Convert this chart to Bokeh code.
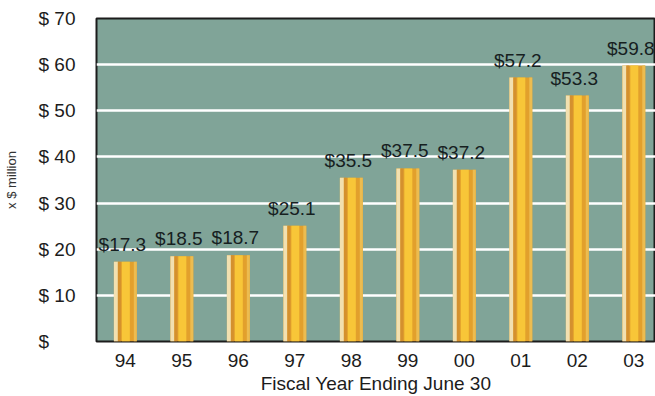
from bokeh.plotting import figure
from bokeh.models import Range1d, FixedTicker, ColumnDataSource
from bokeh.transform import dodge
from bokeh.core.properties import value
from bokeh.embed import file_html
from bokeh.resources import INLINE

years = ["94", "95", "96", "97", "98", "99", "00", "01", "02", "03"]
amounts = [17.3, 18.5, 18.7, 25.1, 35.5, 37.5, 37.2, 57.2, 53.3, 59.8]
value_labels = ["$17.3", "$18.5", "$18.7", "$25.1", "$35.5", "$37.5", "$37.2", "$57.2", "$53.3", "$59.8"]
y_ticks = [0, 10, 20, 30, 40, 50, 60, 70]
y_tick_labels = ["$\u00a0\u00a0\u00a0\u00a0\u00a0", "$ 10", "$ 20", "$ 30", "$ 40", "$ 50", "$ 60", "$ 70"]

xs = list(range(len(years)))
src = ColumnDataSource(dict(x=xs, top=amounts, label=value_labels))

FONT = "Liberation Sans"
unit = 56.8  # px per category
left_pad = 29  # px from frame edge to first bar centre

p = figure(width=655, height=396, output_backend="svg", toolbar_location=None,
           x_range=Range1d(-left_pad / unit, -left_pad / unit + 562 / unit), y_range=Range1d(0, 70),
           min_border_left=93, min_border_right=0, min_border_top=18, min_border_bottom=55)
p.background_fill_color = "#80a498"
p.border_fill_color = "white"
p.outline_line_color = "#1c1c1c"
p.outline_line_width = 2

# bars, layered for the cylinder look
p.vbar(x="x", top="top", width=23 / unit, source=src, fill_color="#e2a02c", line_color=None)
p.vbar(x=dodge("x", -9.5 / unit), top="top", width=4 / unit, source=src, fill_color="#f2e0b0", line_color=None)
p.vbar(x=dodge("x", -6 / unit), top="top", width=3 / unit, source=src, fill_color="#d4902e", line_color=None)
p.vbar(x=dodge("x", 0.5 / unit), top="top", width=8 / unit, source=src, fill_color="#f8c638", line_color=None)
p.vbar(x=dodge("x", 10 / unit), top="top", width=3 / unit, source=src, fill_color="#ecbc50", line_color=None)

p.text(x="x", y="top", text="label", source=src, text_align="center", text_baseline="bottom",
       x_offset=-3, y_offset=-7, text_font=value(FONT), text_font_size="19px", text_color="#16201f")

# grid
p.xgrid.grid_line_color = None
p.ygrid.ticker = FixedTicker(ticks=[10, 20, 30, 40, 50, 60])
p.ygrid.grid_line_color = "white"
p.ygrid.grid_line_width = 2.5

# y axis
p.yaxis.ticker = FixedTicker(ticks=y_ticks)
p.yaxis.major_label_overrides = {t: l for t, l in zip(y_ticks, y_tick_labels)}
p.yaxis.axis_line_color = None
p.yaxis.major_tick_line_color = None
p.yaxis.minor_tick_line_color = None
p.yaxis.major_label_text_font = FONT
p.yaxis.major_label_text_font_size = "19px"
p.yaxis.major_label_text_color = "#1c1c1c"
p.yaxis.major_label_standoff = 15
p.yaxis.axis_label = "x $ million"
p.yaxis.axis_label_text_font = FONT
p.yaxis.axis_label_text_font_size = "13px"
p.yaxis.axis_label_text_font_style = "normal"
p.yaxis.axis_label_text_color = "#333333"
p.yaxis.axis_label_standoff = 17

# x axis
p.xaxis.ticker = FixedTicker(ticks=xs)
p.xaxis.major_label_overrides = {i: y for i, y in zip(xs, years)}
p.xaxis.axis_line_color = None
p.xaxis.major_tick_line_color = None
p.xaxis.minor_tick_line_color = None
p.xaxis.major_label_text_font = FONT
p.xaxis.major_label_text_font_size = "19px"
p.xaxis.major_label_text_color = "#1c1c1c"
p.xaxis.major_label_standoff = 6
p.xaxis.axis_label = "Fiscal Year Ending June 30"
p.xaxis.axis_label_text_font = FONT
p.xaxis.axis_label_text_font_size = "19px"
p.xaxis.axis_label_text_font_style = "normal"
p.xaxis.axis_label_text_color = "#1c1c1c"
p.xaxis.axis_label_standoff = 3

open("out.html", "w").write(file_html(p, INLINE))
